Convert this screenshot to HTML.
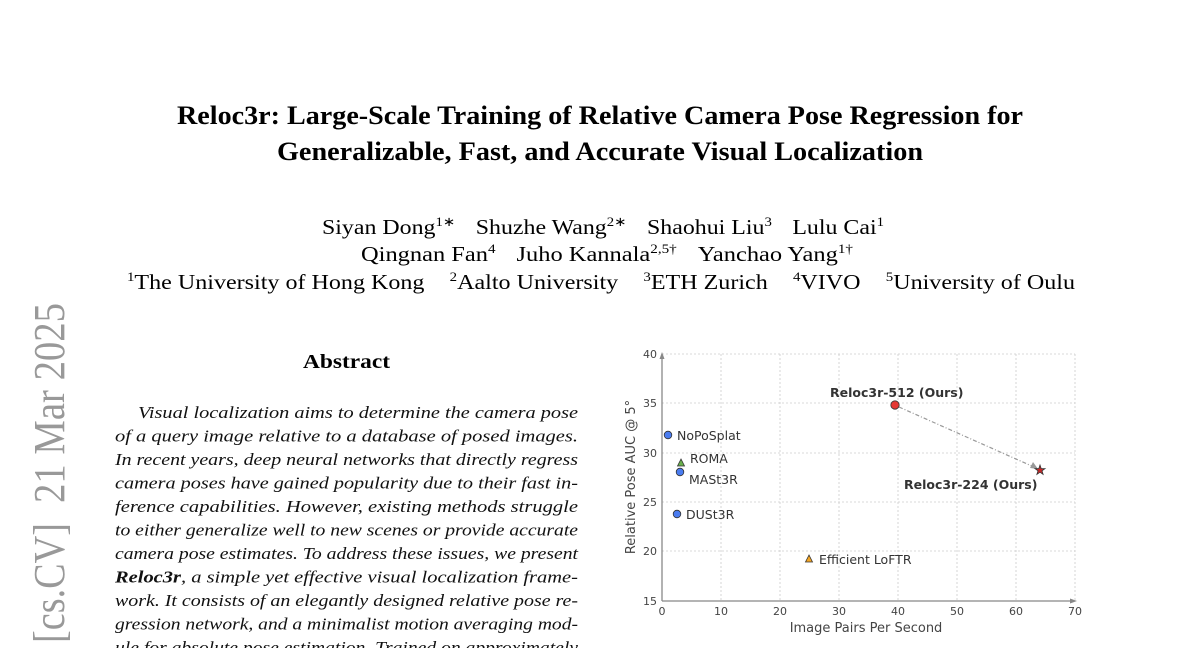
<!DOCTYPE html>
<html><head><meta charset="utf-8"><style>
html,body{margin:0;padding:0;background:#fff;}
svg{display:block;}
.t{font-family:"Liberation Serif",serif;}
.s{font-family:"DejaVu Sans","Liberation Sans",sans-serif;}
</style></head><body>
<svg width="1200" height="648" viewBox="0 0 1200 648" xmlns="http://www.w3.org/2000/svg">
<rect width="1200" height="648" fill="#fff"/>
<!-- title -->
<text class="t" x="177" y="124" font-size="26" font-weight="bold" textLength="846" lengthAdjust="spacingAndGlyphs">Reloc3r: Large-Scale Training of Relative Camera Pose Regression for</text>
<text class="t" x="277" y="160" font-size="26" font-weight="bold" textLength="646" lengthAdjust="spacingAndGlyphs">Generalizable, Fast, and Accurate Visual Localization</text>
<!-- authors -->
<g class="t" font-size="21">
<text x="322" y="234" textLength="562" lengthAdjust="spacingAndGlyphs"><tspan>Siyan Dong</tspan><tspan font-size="13" dy="-8">1∗</tspan><tspan dy="8" dx="18">Shuzhe Wang</tspan><tspan font-size="13" dy="-8">2∗</tspan><tspan dy="8" dx="18">Shaohui Liu</tspan><tspan font-size="13" dy="-8">3</tspan><tspan dy="8" dx="18">Lulu Cai</tspan><tspan font-size="13" dy="-8">1</tspan></text>
<text x="361" y="261" textLength="492" lengthAdjust="spacingAndGlyphs"><tspan>Qingnan Fan</tspan><tspan font-size="13" dy="-8">4</tspan><tspan dy="8" dx="18">Juho Kannala</tspan><tspan font-size="13" dy="-8">2,5†</tspan><tspan dy="8" dx="18">Yanchao Yang</tspan><tspan font-size="13" dy="-8">1†</tspan></text>
<text x="127" y="289" textLength="948" lengthAdjust="spacingAndGlyphs"><tspan font-size="13" dy="-8">1</tspan><tspan dy="8">The University of Hong Kong</tspan><tspan font-size="13" dy="-8" dx="22">2</tspan><tspan dy="8">Aalto University</tspan><tspan font-size="13" dy="-8" dx="22">3</tspan><tspan dy="8">ETH Zurich</tspan><tspan font-size="13" dy="-8" dx="22">4</tspan><tspan dy="8">VIVO</tspan><tspan font-size="13" dy="-8" dx="22">5</tspan><tspan dy="8">University of Oulu</tspan></text>
</g>
<!-- arxiv stamp -->
<g class="t" font-size="44" fill="#999">
<text transform="translate(64,643) rotate(-90)" x="0" y="0" textLength="120" lengthAdjust="spacingAndGlyphs">[cs.CV]</text>
<text transform="translate(64,503) rotate(-90)" x="0" y="0" textLength="200" lengthAdjust="spacingAndGlyphs">21 Mar 2025</text>
</g>
<!-- abstract -->
<text class="t" x="303" y="368" font-size="20" font-weight="bold" textLength="87" lengthAdjust="spacingAndGlyphs">Abstract</text>
<g class="t" font-size="16.5" font-style="italic" fill="#111">
<text x="138" y="418" textLength="440" lengthAdjust="spacingAndGlyphs">Visual localization aims to determine the camera pose</text>
<text x="115" y="441.5" textLength="463" lengthAdjust="spacingAndGlyphs">of a query image relative to a database of posed images.</text>
<text x="115" y="465" textLength="463" lengthAdjust="spacingAndGlyphs">In recent years, deep neural networks that directly regress</text>
<text x="115" y="488.5" textLength="463" lengthAdjust="spacingAndGlyphs">camera poses have gained popularity due to their fast in-</text>
<text x="115" y="512" textLength="463" lengthAdjust="spacingAndGlyphs">ference capabilities.  However, existing methods struggle</text>
<text x="115" y="535.5" textLength="463" lengthAdjust="spacingAndGlyphs">to either generalize well to new scenes or provide accurate</text>
<text x="115" y="559" textLength="463" lengthAdjust="spacingAndGlyphs">camera pose estimates. To address these issues, we present</text>
<text x="115" y="582.5" textLength="463" lengthAdjust="spacingAndGlyphs"><tspan font-weight="bold">Reloc3r</tspan>, a simple yet effective visual localization frame-</text>
<text x="115" y="606" textLength="463" lengthAdjust="spacingAndGlyphs">work. It consists of an elegantly designed relative pose re-</text>
<text x="115" y="629.5" textLength="463" lengthAdjust="spacingAndGlyphs">gression network, and a minimalist motion averaging mod-</text>
<text x="115" y="653" textLength="463" lengthAdjust="spacingAndGlyphs">ule for absolute pose estimation. Trained on approximately</text>
</g>
<!-- chart -->
<g stroke="#ccc" stroke-width="0.8" stroke-dasharray="2,2">
<line x1="721" y1="354" x2="721" y2="601"/><line x1="780" y1="354" x2="780" y2="601"/>
<line x1="839" y1="354" x2="839" y2="601"/><line x1="898" y1="354" x2="898" y2="601"/>
<line x1="957" y1="354" x2="957" y2="601"/><line x1="1016" y1="354" x2="1016" y2="601"/>
<line x1="1075" y1="354" x2="1075" y2="601"/>
<line x1="662" y1="354" x2="1075" y2="354"/><line x1="662" y1="403" x2="1075" y2="403"/>
<line x1="662" y1="453" x2="1075" y2="453"/><line x1="662" y1="502" x2="1075" y2="502"/>
<line x1="662" y1="551" x2="1075" y2="551"/>
</g>
<g stroke="#888" stroke-width="1.3" fill="none">
<line x1="662" y1="601" x2="662" y2="356"/><line x1="662" y1="601" x2="1073" y2="601"/>
</g>
<polygon points="662,352 659.5,359 664.5,359" fill="#888"/>
<polygon points="1077,601 1070,598.5 1070,603.5" fill="#888"/>
<g class="s" font-size="11" fill="#444">
<text x="657" y="358" text-anchor="end">40</text><text x="657" y="407" text-anchor="end">35</text>
<text x="657" y="457" text-anchor="end">30</text><text x="657" y="506" text-anchor="end">25</text>
<text x="657" y="555" text-anchor="end">20</text><text x="657" y="605" text-anchor="end">15</text>
<text x="662" y="615" text-anchor="middle">0</text><text x="721" y="615" text-anchor="middle">10</text>
<text x="780" y="615" text-anchor="middle">20</text><text x="839" y="615" text-anchor="middle">30</text>
<text x="898" y="615" text-anchor="middle">40</text><text x="957" y="615" text-anchor="middle">50</text>
<text x="1016" y="615" text-anchor="middle">60</text><text x="1075" y="615" text-anchor="middle">70</text>
</g>
<text class="s" x="866" y="632" font-size="13" fill="#444" text-anchor="middle">Image Pairs Per Second</text>
<text class="s" transform="translate(635,477) rotate(-90)" font-size="13" fill="#444" text-anchor="middle">Relative Pose AUC @ 5°</text>
<!-- arrow -->
<line x1="899" y1="407" x2="1034" y2="467" stroke="#999" stroke-width="1.2" stroke-dasharray="4,2,1,2"/>
<polygon points="1038,469 1030,468 1033,462" fill="#999"/>
<!-- points -->
<g stroke="#333" stroke-width="0.8">
<circle cx="668" cy="435" r="3.8" fill="#4a7cf0"/>
<circle cx="680" cy="472" r="3.8" fill="#4a7cf0"/>
<circle cx="677" cy="514" r="3.8" fill="#4a7cf0"/>
<polygon points="681,459 677.5,466 684.5,466" fill="#6ab04c"/>
<polygon points="809,555 805.5,562 812.5,562" fill="#f5a623"/>
<circle cx="895" cy="405" r="4.2" fill="#e53935"/>
<polygon points="1040,465 1041.2,468.6 1045,468.6 1042,470.8 1043.1,474.4 1040,472.2 1036.9,474.4 1038,470.8 1035,468.6 1038.8,468.6" fill="#c62828"/>
</g>
<g class="s" font-size="12.5" fill="#333">
<text x="677" y="440">NoPoSplat</text>
<text x="690" y="463">ROMA</text>
<text x="689" y="484">MASt3R</text>
<text x="686" y="519">DUSt3R</text>
<text x="819" y="564">Efficient LoFTR</text>
<text x="830" y="397" font-weight="bold">Reloc3r-512 (Ours)</text>
<text x="904" y="489" font-weight="bold">Reloc3r-224 (Ours)</text>
</g>
</svg>
</body></html>
